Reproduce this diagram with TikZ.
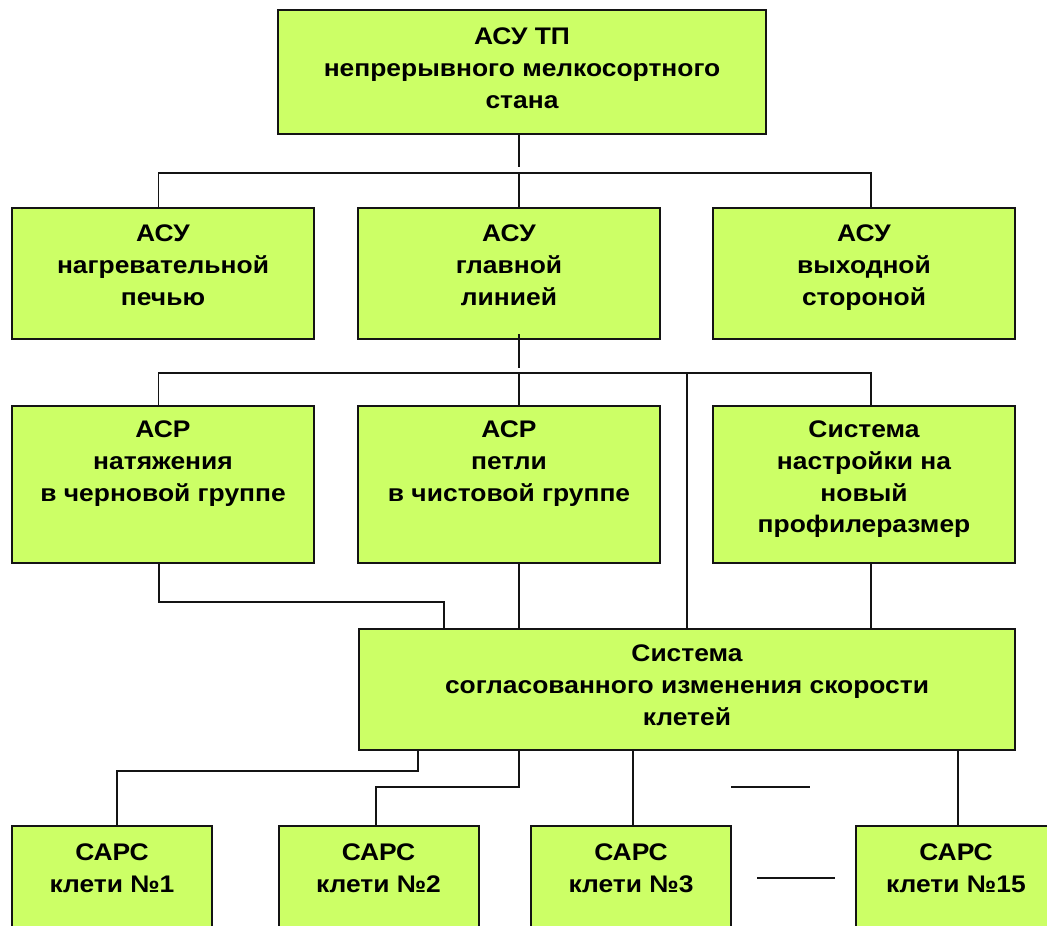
\documentclass[tikz,border=0pt]{standalone}
\usepackage{fontspec}
\setmainfont{Liberation Sans}[FakeStretch=1.1]
\definecolor{boxfill}{HTML}{CCFF66}
\definecolor{edge}{HTML}{141414}
\tikzset{
  box/.style={draw=edge, line width=2pt, fill=boxfill, inner sep=0pt, outer sep=0pt},
  txt/.style={anchor=north, align=center, inner sep=0pt, outer sep=0pt,
              font=\bfseries\fontsize{24}{31.7}\selectfont},
  wire/.style={draw=edge, line width=1.6pt}
}
\begin{document}
\begin{tikzpicture}[x=1pt, y=-1pt]
\useasboundingbox (0,0) rectangle (1047,926);
\clip (0,0) rectangle (1047,926);

% top level
\node[box, minimum width=488pt, minimum height=124pt] (top) at (522,72) {};
\node[txt] (top-t) at ([yshift=-18pt]top.north) {АСУ ТП\\непрерывного мелкосортного\\стана};

% second level
\node[box, minimum width=302pt, minimum height=131pt] (a1) at (163,273.5) {};
\node[box, minimum width=302pt, minimum height=131pt] (a2) at (509,273.5) {};
\node[box, minimum width=302pt, minimum height=131pt] (a3) at (864,273.5) {};
\node[txt] (a1-t) at ([yshift=-17pt]a1.north) {АСУ\\нагревательной\\печью};
\node[txt] (a2-t) at ([yshift=-17pt]a2.north) {АСУ\\главной\\линией};
\node[txt] (a3-t) at ([yshift=-17pt]a3.north) {АСУ\\выходной\\стороной};

% third level
\node[box, minimum width=302pt, minimum height=157pt] (b1) at (163,484.5) {};
\node[box, minimum width=302pt, minimum height=157pt] (b2) at (509,484.5) {};
\node[box, minimum width=302pt, minimum height=157pt] (b3) at (864,484.5) {};
\node[txt] (b1-t) at ([yshift=-15pt]b1.north) {АСР\\натяжения\\в черновой группе};
\node[txt] (b2-t) at ([yshift=-15pt]b2.north) {АСР\\петли\\в чистовой группе};
\node[txt] (b3-t) at ([yshift=-15pt]b3.north) {Система\\настройки на\\новый\\профилеразмер};

% speed coordination system
\node[box, minimum width=656pt, minimum height=121pt] (s) at (687,689.5) {};
\node[txt] (s-t) at ([yshift=-16pt]s.north) {Система\\согласованного изменения скорости\\клетей};

% stand controllers
\node[box, minimum width=200pt, minimum height=131pt] (c1) at (112,891.5) {};
\node[box, minimum width=200pt, minimum height=131pt] (c2) at (378.5,891.5) {};
\node[box, minimum width=200pt, minimum height=131pt] (c3) at (631,891.5) {};
\node[box, minimum width=200pt, minimum height=131pt] (c4) at (956,891.5) {};
\node[txt] (c1-t) at ([yshift=-18pt]c1.north) {САРС\\клети №1};
\node[txt] (c2-t) at ([yshift=-18pt]c2.north) {САРС\\клети №2};
\node[txt] (c3-t) at ([yshift=-18pt]c3.north) {САРС\\клети №3};
\node[txt] (c4-t) at ([yshift=-18pt]c4.north) {САРС\\клети №15};

% buses
\coordinate (bus1) at (519,173);
\coordinate (bus2) at (519,373);

% top -> second level
\draw[wire] ([xshift=-3pt]top.south) -- ++(0,33);
\draw[wire] ([xshift=-4.5pt]a1.north) |- (bus1) -| ([xshift=7pt]a3.north);
\draw[wire] (bus1) -- ([xshift=10pt]a2.north);

% main line -> third level
\draw[wire] ([xshift=10pt,yshift=5pt]a2.south) -- ++(0,34);
\draw[wire] ([xshift=-4.5pt]b1.north) |- (bus2) -| ([xshift=7pt]b3.north);
\draw[wire] (bus2) -- ([xshift=10pt]b2.north);
\draw[wire] (s.north |- bus2) -- (s.north);

% third level -> speed coordination
\draw[wire] ([xshift=-4pt]b1.south) -- ++(0,39) -| ([xshift=-243pt]s.north);
\draw[wire] ([xshift=10pt]b2.south) -- ([xshift=10pt]b2.south |- s.north);
\draw[wire] ([xshift=7pt]b3.south) -- ([xshift=7pt]b3.south |- s.north);

% speed coordination -> stands
\draw[wire] ([xshift=-269pt]s.south) -- ++(0,21) -| ([xshift=5pt]c1.north);
\draw[wire] ([xshift=-168pt]s.south) -- ++(0,37) -| ([xshift=-2.5pt]c2.north);
\draw[wire] ([xshift=2pt]c3.north |- s.south) -- ([xshift=2pt]c3.north);
\draw[wire] ([xshift=2pt]c4.north |- s.south) -- ([xshift=2pt]c4.north);

% ellipsis dashes between stand 3 and stand 15
\draw[wire] (731,787) -- (810,787);
\draw[wire] (757,878) -- (835,878);
\end{tikzpicture}
\end{document}
